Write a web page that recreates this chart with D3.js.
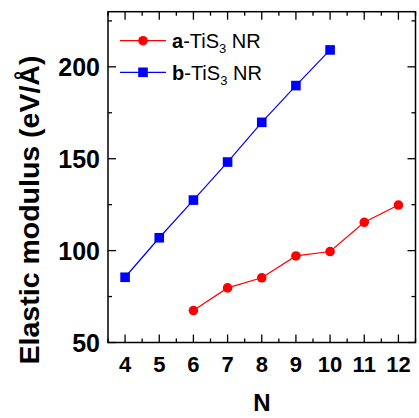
<!DOCTYPE html>
<html><head><meta charset="utf-8">
<script src="https://cdn.jsdelivr.net/npm/d3@7"></script>
<style>html,body{margin:0;padding:0;background:#fff;}svg{display:block;font-family:Arial,"Liberation Sans",sans-serif;}</style>
</head><body>
<svg id="c" width="419" height="418"></svg>
<script>
const nA = [6, 7, 8, 9, 10, 11, 12];
const valuesA = [67.4, 79.7, 85.2, 97.1, 99.5, 115.4, 124.8];
const nB = [4, 5, 6, 7, 8, 9, 10];
const valuesB = [85.5, 107, 127.5, 148.2, 169.8, 189.8, 209.2];
const xTicks = [4, 5, 6, 7, 8, 9, 10, 11, 12];
const xMinor = [3.5, 4.5, 5.5, 6.5, 7.5, 8.5, 9.5, 10.5, 11.5, 12.5];
const yTicks = [50, 100, 150, 200];
const yMinor = [75, 125, 175, 225];

const svg = d3.select("#c");
const L = 108, R = 415.5, T = 11.7, B = 342.5;
const x = d3.scaleLinear().domain([3.5, 12.5]).range([L, R]);
const y = d3.scaleLinear().domain([50, 230]).range([B, T]);

// ticks (inward) on all four sides
const g = svg.append("g").attr("stroke", "#000").attr("stroke-width", 1.3);
xTicks.forEach(v => {
  g.append("line").attr("x1", x(v)).attr("x2", x(v)).attr("y1", B).attr("y2", B - 8);
  g.append("line").attr("x1", x(v)).attr("x2", x(v)).attr("y1", T).attr("y2", T + 8);
});
xMinor.forEach(v => {
  g.append("line").attr("x1", x(v)).attr("x2", x(v)).attr("y1", B).attr("y2", B - 4);
  g.append("line").attr("x1", x(v)).attr("x2", x(v)).attr("y1", T).attr("y2", T + 4);
});
yTicks.forEach(v => {
  g.append("line").attr("x1", L).attr("x2", L + 8).attr("y1", y(v)).attr("y2", y(v));
  g.append("line").attr("x1", R).attr("x2", R - 8).attr("y1", y(v)).attr("y2", y(v));
});
yMinor.forEach(v => {
  g.append("line").attr("x1", L).attr("x2", L + 4).attr("y1", y(v)).attr("y2", y(v));
  g.append("line").attr("x1", R).attr("x2", R - 4).attr("y1", y(v)).attr("y2", y(v));
});
svg.append("rect").attr("x", L).attr("y", T).attr("width", R - L).attr("height", B - T)
  .attr("fill", "none").attr("stroke", "#000").attr("stroke-width", 1.5);

// tick labels
svg.append("g").selectAll("text").data(xTicks).join("text")
  .attr("x", d => x(d)).attr("y", 372).attr("text-anchor", "middle")
  .attr("font-size", 22).attr("font-weight", "bold").text(d => d);
svg.append("g").selectAll("text").data(yTicks).join("text")
  .attr("x", 100).attr("y", d => y(d) + 9).attr("text-anchor", "end")
  .attr("font-size", 25).attr("font-weight", "bold").text(d => d);

// axis titles
svg.append("text").attr("x", 262).attr("y", 411).attr("text-anchor", "middle")
  .attr("font-size", 24).attr("font-weight", "bold").text("N");
svg.append("text").attr("transform", "translate(39,210) rotate(-90)").attr("text-anchor", "middle")
  .attr("font-size", 28.5).attr("font-weight", "bold").text("Elastic modulus (eV/Å)");

const line = d3.line().x(d => x(d[0])).y(d => y(d[1]));
const dataA = nA.map((n, i) => [n, valuesA[i]]);
const dataB = nB.map((n, i) => [n, valuesB[i]]);

svg.append("path").datum(dataA).attr("d", line).attr("fill", "none").attr("stroke", "#ff0000").attr("stroke-width", 1.2);
svg.append("path").datum(dataB).attr("d", line).attr("fill", "none").attr("stroke", "#0000ff").attr("stroke-width", 1.2);
svg.append("g").selectAll("circle").data(dataA).join("circle")
  .attr("cx", d => x(d[0])).attr("cy", d => y(d[1])).attr("r", 4.8).attr("fill", "#ff0000");
svg.append("g").selectAll("rect").data(dataB).join("rect")
  .attr("x", d => x(d[0]) - 4.8).attr("y", d => y(d[1]) - 4.8).attr("width", 9.6).attr("height", 9.6).attr("fill", "#0000ff");

// legend
const leg = [
  {lab: "a", col: "#ff0000", shape: "circle", yy: 40.7},
  {lab: "b", col: "#0000ff", shape: "square", yy: 72.3}
];
leg.forEach(l => {
  svg.append("line").attr("x1", 120).attr("x2", 166).attr("y1", l.yy).attr("y2", l.yy)
    .attr("stroke", l.col).attr("stroke-width", 1.2);
  if (l.shape === "circle") svg.append("circle").attr("cx", 143).attr("cy", l.yy).attr("r", 4.8).attr("fill", l.col);
  else svg.append("rect").attr("x", 143 - 4.8).attr("y", l.yy - 4.8).attr("width", 9.6).attr("height", 9.6).attr("fill", l.col);
  const t = svg.append("text").attr("x", 172).attr("y", l.yy + 7.5).attr("font-size", 20);
  t.append("tspan").attr("font-weight", "bold").text(l.lab);
  t.append("tspan").text("-TiS");
  t.append("tspan").attr("font-size", 13).attr("dy", 5).text("3");
  t.append("tspan").attr("dy", -5).text(" NR");
});
</script>
</body></html>
